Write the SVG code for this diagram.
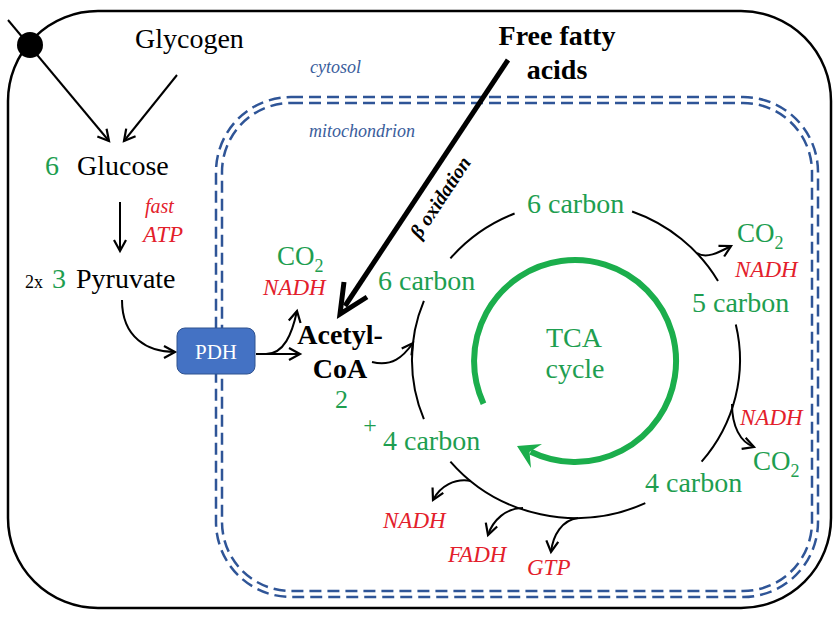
<svg xmlns="http://www.w3.org/2000/svg" width="836" height="625" viewBox="0 0 836 625">
<defs>
<style>
text{font-family:"Liberation Serif","Times New Roman",serif;}
.blk{fill:#000;font-size:28px;}
.grn{fill:#1E9E50;font-size:28px;}
.red{fill:#E3202B;font-size:23px;font-style:italic;}
.blu{fill:#3A5D9C;font-size:18px;font-style:italic;}
.bold{font-weight:bold;}
.ln{fill:none;stroke:#000;stroke-width:2;}
.dash{fill:none;stroke:#2F5597;stroke-width:2.5;stroke-dasharray:12 6;}
</style>
<marker id="ah" markerUnits="userSpaceOnUse" markerWidth="16" markerHeight="16" viewBox="-12 -8 14 16" refX="0" refY="0" orient="auto">
<path d="M-11,-6 L0,0 L-11,6" fill="none" stroke="#000" stroke-width="2.2"/>
</marker>
</defs>

<g id="cell">
<rect x="8" y="11" width="823" height="597" rx="90" ry="90" fill="none" stroke="#000" stroke-width="2.5"/>
<circle cx="30" cy="45" r="13" fill="#000"/>
</g>

<g id="mitochondrion">
<rect x="216" y="97" width="602" height="500" rx="75" ry="75" class="dash"/>
<rect x="222" y="103" width="590" height="488" rx="69" ry="69" class="dash"/>
<text class="blu" x="310" y="73">cytosol</text>
<text class="blu" x="309" y="137">mitochondrion</text>
</g>

<g id="connectors">
<line class="ln" x1="8" y1="20" x2="109" y2="141" marker-end="url(#ah)"/>
<line class="ln" x1="177" y1="75" x2="124" y2="141" marker-end="url(#ah)"/>
<line class="ln" x1="120" y1="202" x2="120" y2="251" marker-end="url(#ah)"/>
<path class="ln" d="M122,300 C122,338 148,352 175,352" marker-end="url(#ah)"/>
<path class="ln" d="M256,354 L300,354" marker-end="url(#ah)"/>
<path class="ln" d="M266,354 C284,354 292,334 297,311" marker-end="url(#ah)"/>
<path class="ln" d="M372,362 C392,367 403,357 413,343" marker-end="url(#ah)"/>
<!-- ring -->
<path class="ln" d="M450.4,258.4 A164,158 0 0 1 514.6,213.5"/>
<path class="ln" d="M632.1,211.5 A164,158 0 0 1 718,281"/>
<path class="ln" d="M735.8,324.5 A164,158 0 0 1 701.6,461.6"/>
<path class="ln" d="M645.3,503.2 A164,158 0 0 1 450.4,461.6"/>
<path class="ln" d="M423.9,419.2 A164,158 0 0 1 423.9,300.8"/>
<!-- branches -->
<path class="ln" d="M697,253 C706,259 718,253 731,246" marker-end="url(#ah)"/>
<path class="ln" d="M732,404 C732,426 740,442 754,447" marker-end="url(#ah)"/>
<path class="ln" d="M471,481 C455,478 440,486 433,500" marker-end="url(#ah)"/>
<path class="ln" d="M523,508 C506,508 493,520 488,535" marker-end="url(#ah)"/>
<path class="ln" d="M578,518 C562,520 553,535 551,552" marker-end="url(#ah)"/>
<!-- fatty acid arrow -->
<line x1="508" y1="60" x2="345" y2="306" stroke="#000" stroke-width="5"/>
<path d="M367,297 L340,314 L344,282" fill="none" stroke="#000" stroke-width="5" stroke-linejoin="miter"/>
<!-- TCA cycle arrow -->
<path d="M483.5,403.7 A101,101 0 1 1 530.7,451.8" fill="none" stroke="#1BAE4C" stroke-width="6"/>
<polygon points="517,446 542,444 529.5,452.1 531,468" fill="#1BAE4C"/>
</g>

<g id="glycogen"><text class="blk" x="135" y="48">Glycogen</text></g>
<g id="glucose"><text class="grn" x="45" y="175">6</text><text class="blk" x="77" y="175">Glucose</text></g>
<g id="glycolysis-label">
<text class="red" x="145" y="213" style="font-size:20px">fast</text>
<text class="red" x="143" y="242">ATP</text>
</g>
<g id="pyruvate"><text class="blk" x="25" y="288" style="font-size:18px">2x</text><text class="grn" x="52" y="288">3</text><text class="blk" x="76" y="288">Pyruvate</text></g>
<g id="pdh">
<rect x="177" y="328" width="78" height="46" rx="8" ry="8" fill="#4472C4" stroke="#2F528F" stroke-width="1"/>
<text x="216" y="359" text-anchor="middle" style="font-size:21px;fill:#fff">PDH</text>
</g>
<g id="pdh-products">
<text class="grn" x="277" y="265" style="font-size:27px">CO<tspan dy="7" style="font-size:18px">2</tspan></text>
<text class="red" x="263" y="295">NADH</text>
</g>
<g id="fatty-acids">
<text class="blk bold" x="557" y="45" text-anchor="middle">Free fatty</text>
<text class="blk bold" x="557" y="79" text-anchor="middle">acids</text>
<text transform="translate(446,201) rotate(-56.4)" text-anchor="middle" style="font-size:20px;font-weight:bold;font-style:italic;fill:#000">β oxidation</text>
</g>
<g id="acetyl-coa">
<text class="blk bold" x="340" y="344" text-anchor="middle">Acetyl-</text>
<text class="blk bold" x="340" y="378" text-anchor="middle">CoA</text>
<text class="grn" x="335" y="408" style="font-size:26px">2</text>
<text class="grn" x="370" y="433" text-anchor="middle" style="font-size:24px">+</text>
</g>
<g id="tca">
<text class="grn" x="574" y="347" text-anchor="middle">TCA</text>
<text class="grn" x="575" y="378" text-anchor="middle">cycle</text>
</g>
<g id="c6-top"><text class="grn" x="527" y="213">6 carbon</text></g>
<g id="c6-left"><text class="grn" x="378" y="290">6 carbon</text></g>
<g id="c5"><text class="grn" x="692" y="312">5 carbon</text></g>
<g id="c4-right"><text class="grn" x="645" y="492">4 carbon</text></g>
<g id="c4-left"><text class="grn" x="383" y="450">4 carbon</text></g>
<g id="products-5c">
<text class="grn" x="737" y="242" style="font-size:27px">CO<tspan dy="7" style="font-size:18px">2</tspan></text>
<text class="red" x="735" y="277">NADH</text>
</g>
<g id="products-4c">
<text class="red" x="740" y="425">NADH</text>
<text class="grn" x="753" y="470" style="font-size:27px">CO<tspan dy="7" style="font-size:18px">2</tspan></text>
</g>
<g id="products-bottom">
<text class="red" x="383" y="528">NADH</text>
<text class="red" x="448" y="562">FADH</text>
<text class="red" x="527" y="575">GTP</text>
</g>
</svg>
